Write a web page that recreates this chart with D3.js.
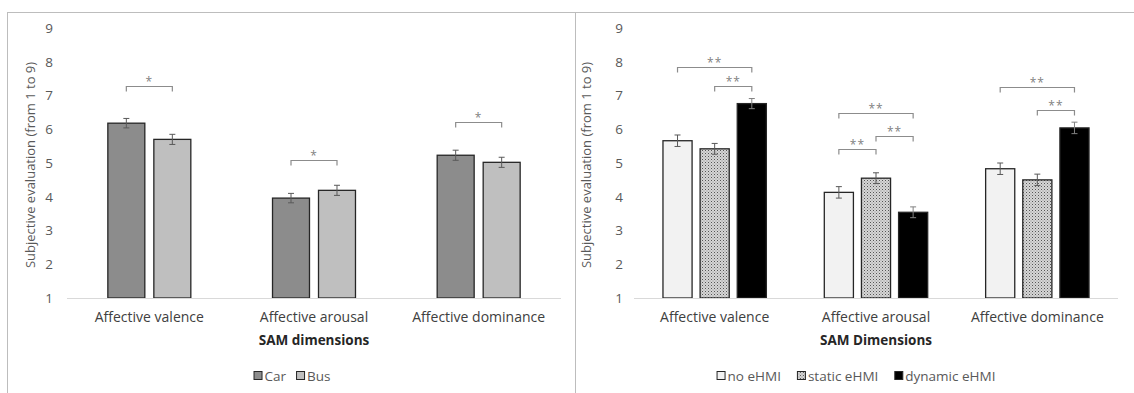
<!DOCTYPE html>
<html><head><meta charset="utf-8">
<script src="https://cdn.jsdelivr.net/npm/d3@7"></script>
<style>body{margin:0;background:#fff}svg{display:block}text{font-family:"Open Sans","Noto Sans",sans-serif}</style>
</head><body>
<svg id="c" width="1134" height="393"></svg>
<script>
const categories = ["Affective valence", "Affective arousal", "Affective dominance"];
const yTicks = [1, 2, 3, 4, 5, 6, 7, 8, 9];

// Left chart: vehicle type
const vehicleSeries = ["Car", "Bus"];
const carValues = [6.18, 3.96, 5.23];
const busValues = [5.70, 4.19, 5.02];
const carErr = [0.14, 0.14, 0.15];
const busErr = [0.15, 0.15, 0.15];
// significance: [category index, from series, to series, bracket level, label]
const vehicleSig = [[0, 0, 1, 7.28, "*"], [1, 0, 1, 5.09, "*"], [2, 0, 1, 6.21, "*"]];

// Right chart: eHMI type
const ehmiSeries = ["no eHMI", "static eHMI", "dynamic eHMI"];
const noValues = [5.66, 4.13, 4.83];
const staticValues = [5.42, 4.55, 4.50];
const dynamicValues = [6.76, 3.54, 6.04];
const noErr = [0.17, 0.17, 0.17];
const staticErr = [0.16, 0.16, 0.17];
const dynamicErr = [0.15, 0.16, 0.17];
const ehmiSig = [
  [0, 0, 2, 7.84, "**"], [0, 1, 2, 7.28, "**"],
  [1, 0, 2, 6.48, "**"], [1, 1, 2, 5.80, "**"], [1, 0, 1, 5.41, "**"],
  [2, 0, 2, 7.25, "**"], [2, 1, 2, 6.57, "**"]
];

const svg = d3.select("#c");
const defs = svg.append("defs");
const pat = defs.append("pattern").attr("id", "dots").attr("patternUnits", "userSpaceOnUse")
  .attr("width", 3).attr("height", 3);
pat.append("rect").attr("width", 3).attr("height", 3).attr("fill", "#d6d6d6");
pat.append("rect").attr("x", 0).attr("y", 0).attr("width", 1).attr("height", 1).attr("fill", "#555555");
pat.append("rect").attr("x", 1.5).attr("y", 1.5).attr("width", 1).attr("height", 1).attr("fill", "#8a8a8a");

// frames
const frameC = "#bdbdbd";
svg.append("line").attr("x1", 7).attr("x2", 1134).attr("y1", 12.5).attr("y2", 12.5).attr("stroke", frameC);
svg.append("line").attr("x1", 7.5).attr("x2", 7.5).attr("y1", 12).attr("y2", 393).attr("stroke", frameC);
svg.append("line").attr("x1", 575.5).attr("x2", 575.5).attr("y1", 12).attr("y2", 393).attr("stroke", frameC);

const y = d3.scaleLinear().domain([1, 9]).range([298, 28]);

function panel(opt) {
  const g = svg.append("g");
  const x = d3.scaleBand().domain(categories).range([opt.x0, opt.x1]);
  const xs = d3.scaleBand().domain(opt.series).range([0, x.bandwidth()])
    .paddingInner(opt.pi).paddingOuter(opt.po);

  // y axis labels
  const ya = d3.axisLeft(y).tickValues(yTicks).tickSize(0).tickPadding(0);
  const yg = g.append("g").attr("transform", `translate(${opt.yLabelX},0)`).call(ya);
  yg.select(".domain").remove();
  yg.selectAll("text").attr("font-size", 13.5).attr("fill", "#595959")
    .attr("font-family", "'Open Sans','Noto Sans',sans-serif");

  g.append("text").attr("transform", `translate(${opt.titleX},165) rotate(-90)`)
    .attr("text-anchor", "middle").attr("font-size", 13).attr("fill", "#595959")
    .text("Subjective evaluation (from 1 to 9)");

  // bars
  opt.series.forEach((s, si) => {
    g.selectAll(null).data(categories).enter().append("rect")
      .attr("x", c => x(c) + xs(s))
      .attr("width", xs.bandwidth())
      .attr("y", (c, i) => y(opt.values[si][i]))
      .attr("height", (c, i) => y(1) - y(opt.values[si][i]))
      .attr("fill", opt.fills[si]).attr("stroke", "#262626").attr("stroke-width", 1.3);
  });

  // baseline
  g.append("line").attr("x1", opt.x0).attr("x2", opt.x1).attr("y1", y(1) + 0.5).attr("y2", y(1) + 0.5)
    .attr("stroke", "#d9d9d9").attr("stroke-width", 1.2);

  // error bars
  opt.series.forEach((s, si) => {
    categories.forEach((c, i) => {
      const cx = x(c) + xs(s) + xs.bandwidth() / 2;
      const v = opt.values[si][i], e = opt.errs[si][i];
      const col = si === 2 ? "#808080" : "#595959";
      const eg = g.append("g").attr("stroke", col).attr("stroke-width", 1);
      eg.append("line").attr("x1", cx).attr("x2", cx).attr("y1", y(v + e)).attr("y2", y(v - e));
      eg.append("line").attr("x1", cx - 3).attr("x2", cx + 3).attr("y1", y(v + e)).attr("y2", y(v + e));
      eg.append("line").attr("x1", cx - 3).attr("x2", cx + 3).attr("y1", y(v - e)).attr("y2", y(v - e));
    });
  });

  // significance brackets
  opt.sig.forEach(([ci, a, b, lvl, lab]) => {
    const c = categories[ci];
    const xa = x(c) + xs(opt.series[a]) + xs.bandwidth() / 2;
    const xb = x(c) + xs(opt.series[b]) + xs.bandwidth() / 2;
    const yy = Math.round(y(lvl)) + 0.5;
    g.append("path").attr("d", `M${xa},${yy + 5}V${yy}H${xb}V${yy + 5}`)
      .attr("fill", "none").attr("stroke", "#8c8c8c").attr("stroke-width", 1.2);
    g.append("text").attr("x", (xa + xb) / 2).attr("y", yy - 1).attr("text-anchor", "middle")
      .attr("font-size", 12).attr("fill", "#7f7f7f").attr("letter-spacing", 1)
      .text(lab);
  });

  // category axis labels
  const xa = d3.axisBottom(x).tickSize(0).tickPadding(0);
  const xg = g.append("g").attr("transform", `translate(0,${y(1) + 24})`).call(xa);
  xg.select(".domain").remove();
  xg.selectAll("text").attr("font-size", 14).attr("fill", "#404040").attr("dy", 0)
    .attr("font-family", "'Open Sans','Noto Sans',sans-serif");

  g.append("text").attr("x", (opt.x0 + opt.x1) / 2).attr("y", 345).attr("text-anchor", "middle")
    .attr("font-size", 13.5).attr("font-weight", "bold").attr("fill", "#262626").text(opt.xTitle);

  // legend (centred in the chart area)
  const lg = g.append("g");
  let cx = 0;
  opt.series.forEach((s, si) => {
    const it = lg.append("g").attr("transform", `translate(${cx},0)`);
    it.append("rect").attr("x", 0.5).attr("y", -9.5).attr("width", 8).attr("height", 8)
      .attr("fill", opt.fills[si]).attr("stroke", "#262626").attr("stroke-width", 1);
    const t = it.append("text").attr("x", 11).attr("y", 0).attr("font-size", 13.5).attr("fill", "#595959").text(s);
    const w = t.node().getComputedTextLength();
    cx += 11 + w + opt.legendGap;
  });
  const totalW = cx - opt.legendGap;
  lg.attr("transform", `translate(${opt.areaCenter - totalW / 2},381)`);
}

panel({
  x0: 67, x1: 561, series: vehicleSeries,
  values: [carValues, busValues], errs: [carErr, busErr],
  fills: ["#8c8c8c", "#bfbfbf"], pi: 0.196, po: 0.888,
  sig: vehicleSig, yLabelX: 53, titleX: 35, xTitle: "SAM dimensions", legendGap: 10, areaCenter: 292
});

panel({
  x0: 634, x1: 1118, series: ehmiSeries,
  values: [noValues, staticValues, dynamicValues], errs: [noErr, staticErr, dynamicErr],
  fills: ["#f2f2f2", "url(#dots)", "#000000"], pi: 0.216, po: 0.78,
  sig: ehmiSig, yLabelX: 623, titleX: 591, xTitle: "SAM Dimensions", legendGap: 16, areaCenter: 856
});
</script>
</body></html>
